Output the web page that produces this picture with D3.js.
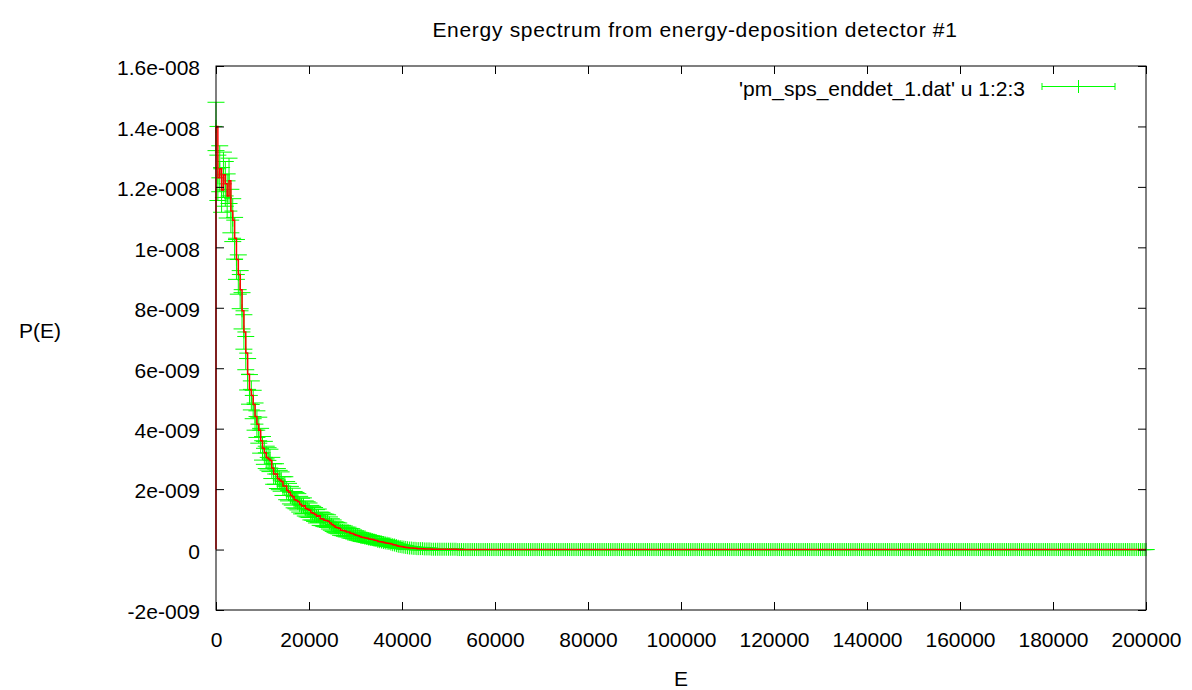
<!DOCTYPE html>
<html><head><meta charset="utf-8">
<script src="https://cdn.jsdelivr.net/npm/d3@7"></script>
<style>
body{margin:0;background:#fff}
svg{display:block}
text{font-family:"Liberation Sans",Arial,Helvetica,sans-serif;fill:#000}
</style>
</head><body><svg id="c" width="1192" height="690"></svg>
<script>
// ---------------- data ----------------
const title = "Energy spectrum from energy-deposition detector #1";
const xLabel = "E";
const yLabel = "P(E)";
const legendLabel = "'pm_sps_enddet_1.dat' u 1:2:3";
const xTicks = [0,20000,40000,60000,80000,100000,120000,140000,160000,180000,200000];
const xTickLabels = ["0","20000","40000","60000","80000","100000","120000","140000","160000","180000","200000"];
const yTicks = [-2e-9,0,2e-9,4e-9,6e-9,8e-9,1e-8,1.2e-8,1.4e-8,1.6e-8];
const yTickLabels = ["-2e-009","0","2e-009","4e-009","6e-009","8e-009","1e-008","1.2e-008","1.4e-008","1.6e-008"];
const binWidth = 400;      // E step between points (E = index * binWidth)
const UNIT = 1e-9;         // P(E) values below are in units of 1e-9
const pE = [
14.0,12.3,12.6,11.9,12.4,12.1,11.7,12.2,11.2,10.9,
10.3,9.6,9.1,8.6,7.9,7.2,6.5,5.8,5.3,5.1,
4.8,4.4,4.15,3.95,3.6,3.35,3.2,3.05,3.0,2.95,
2.7,2.5,2.5,2.35,2.3,2.25,2.1,2.1,1.95,1.9,
1.8,1.75,1.65,1.62,1.58,1.5,1.44,1.45,1.36,1.33,
1.3,1.22,1.2,1.16,1.1,1.12,1.02,1.01,0.97,0.96,
0.94,0.88,0.83,0.79,0.74,0.72,0.70,0.64,0.63,0.61,
0.58,0.58,0.54,0.53,0.5,0.47,0.46,0.43,0.41,0.4,
0.38,0.37,0.35,0.34,0.33,0.31,0.3,0.27,0.26,0.25,
0.23,0.22,0.21,0.2,0.18,0.16,0.15,0.13,0.11,0.1,
0.09,0.08,0.07,0.06,0.05,0.05,0.04,0.04,0.03,0.03,
0.03,0.03,0.02,0.02,0.02,0.02,0.01,0.01,0.01,0.01,
0.01,0.01,0.01,0.01,0.01,0.01,0.01,0.01,0.01,0.01,
0,0,0,0,0,0,0,0,0,0,
0,0,0,0,0,0,0,0,0,0,0,0,0,0,0,0,0,0,0,0,0,0,0,0,0,0,0,0,0,0,
0,0,0,0,0,0,0,0,0,0,0,0,0,0,0,0,0,0,0,0,0,0,0,0,0,0,0,0,0,0,
0,0,0,0,0,0,0,0,0,0,0,0,0,0,0,0,0,0,0,0,0,0,0,0,0,0,0,0,0,0,
0,0,0,0,0,0,0,0,0,0,0,0,0,0,0,0,0,0,0,0,0,0,0,0,0,0,0,0,0,0,
0,0,0,0,0,0,0,0,0,0,0,0,0,0,0,0,0,0,0,0,0,0,0,0,0,0,0,0,0,0,
0,0,0,0,0,0,0,0,0,0,0,0,0,0,0,0,0,0,0,0,0,0,0,0,0,0,0,0,0,0,
0,0,0,0,0,0,0,0,0,0,0,0,0,0,0,0,0,0,0,0,0,0,0,0,0,0,0,0,0,0,
0,0,0,0,0,0,0,0,0,0,0,0,0,0,0,0,0,0,0,0,0,0,0,0,0,0,0,0,0,0,
0,0,0,0,0,0,0,0,0,0,0,0,0,0,0,0,0,0,0,0,0,0,0,0,0,0,0,0,0,0,
0,0,0,0,0,0,0,0,0,0,0,0,0,0,0,0,0,0,0,0,0,0,0,0,0,0,0,0,0,0,
0,0,0,0,0,0,0,0,0,0,0,0,0,0,0,0,0,0,0,0,0,0,0,0,0,0,0,0,0,0,
0,0,0,0,0,0,0,0,0,0,0,0,0,0,0,0,0,0,0,0,0,0,0,0,0,0,0,0,0,0,
0
];
const pErr = [
0.80,0.75,0.76,0.74,0.75,0.74,0.73,0.75,0.72,0.71,
0.69,0.66,0.65,0.63,0.60,0.57,0.55,0.52,0.49,0.48,
0.47,0.45,0.44,0.43,0.41,0.39,0.38,0.37,0.37,0.37,
0.35,0.34,0.34,0.33,0.32,0.32,0.31,0.31,0.30,0.29,
0.29,0.28,0.27,0.27,0.27,0.26,0.26,0.26,0.25,0.25,
0.24,0.24,0.23,0.23,0.22,0.22,0.22,0.22,0.21,0.21,
0.21,0.20,0.19,0.19,0.18,0.18,0.18,0.17,0.17,0.17,
0.16,0.16,0.16,0.16,0.15,0.15,0.15,0.14,0.14,0.14,
0.13,0.13,0.13,0.12,0.12,0.12,0.12,0.11,0.11,0.11,
0.10,0.10,0.10,0.10,0.09,0.09,0.08,0.08,0.07,0.07,
0.06,0.06,0.06,0.05,0.05,0.05,0.04,0.04,0.04,0.04,
0.04,0.04,0.03,0.03,0.03,0.03,0.02,0.02,0.02,0.02,
0.02,0.02,0.02,0.02,0.02,0.02,0.02,0.02,0.02,0.02,
0,0,0,0,0,0,0,0,0,0,
0,0,0,0,0,0,0,0,0,0,0,0,0,0,0,0,0,0,0,0,0,0,0,0,0,0,0,0,0,0,
0,0,0,0,0,0,0,0,0,0,0,0,0,0,0,0,0,0,0,0,0,0,0,0,0,0,0,0,0,0,
0,0,0,0,0,0,0,0,0,0,0,0,0,0,0,0,0,0,0,0,0,0,0,0,0,0,0,0,0,0,
0,0,0,0,0,0,0,0,0,0,0,0,0,0,0,0,0,0,0,0,0,0,0,0,0,0,0,0,0,0,
0,0,0,0,0,0,0,0,0,0,0,0,0,0,0,0,0,0,0,0,0,0,0,0,0,0,0,0,0,0,
0,0,0,0,0,0,0,0,0,0,0,0,0,0,0,0,0,0,0,0,0,0,0,0,0,0,0,0,0,0,
0,0,0,0,0,0,0,0,0,0,0,0,0,0,0,0,0,0,0,0,0,0,0,0,0,0,0,0,0,0,
0,0,0,0,0,0,0,0,0,0,0,0,0,0,0,0,0,0,0,0,0,0,0,0,0,0,0,0,0,0,
0,0,0,0,0,0,0,0,0,0,0,0,0,0,0,0,0,0,0,0,0,0,0,0,0,0,0,0,0,0,
0,0,0,0,0,0,0,0,0,0,0,0,0,0,0,0,0,0,0,0,0,0,0,0,0,0,0,0,0,0,
0,0,0,0,0,0,0,0,0,0,0,0,0,0,0,0,0,0,0,0,0,0,0,0,0,0,0,0,0,0,
0,0,0,0,0,0,0,0,0,0,0,0,0,0,0,0,0,0,0,0,0,0,0,0,0,0,0,0,0,0,
0
];

// ---------------- drawing ----------------
const FS = 21;
const svg = d3.select("#c");
const x = d3.scaleLinear().domain([0, 200000]).range([216, 1146]);
const y = d3.scaleLinear().domain([-2e-9, 1.6e-8]).range([610, 66]);

const pts = pE.map((v, i) => ({ e: i * binWidth, v: v * UNIT, d: (pErr[i] || 0) * UNIT }));

// error bars + "+" points (green)
const CAP = 8.5, PT = 6.5;
let dPath = "";
pts.forEach(p => {
  const cx = x(p.e), cy = y(p.v), lo = y(p.v - p.d), hi = y(p.v + p.d);
  dPath += `M${cx},${lo}V${hi}`;
  dPath += `M${cx - CAP},${lo}H${cx + CAP}M${cx - CAP},${hi}H${cx + CAP}`;
  dPath += `M${cx - PT},${cy}H${cx + PT}M${cx},${cy - PT}V${cy + PT}`;
});
svg.append("path").attr("d", dPath).attr("fill", "none")
  .attr("stroke", "#00ff00").attr("stroke-width", 1);

// red step line
const stepLine = d3.line().x(p => x(p.e)).y(p => y(p.v)).curve(d3.curveStepAfter);
svg.append("path").datum([{ e: 0, v: 0 }].concat(pts))
  .attr("d", stepLine).attr("fill", "none")
  .attr("stroke", "#ff0000").attr("stroke-width", 1.5);

// axes with inward ticks (mirrored)
function styleAxis(g) {
  g.select(".domain").remove();
  g.selectAll("line").attr("stroke", "#000");
  g.selectAll("text").attr("font-size", FS).attr("font-family", '"Liberation Sans",Arial,sans-serif').attr("fill", "#000");
}
svg.append("g").attr("transform", "translate(216,0)")
  .call(d3.axisLeft(y).tickValues(yTicks).tickFormat((d, i) => yTickLabels[i]).tickSizeInner(-8).tickSizeOuter(0).tickPadding(16))
  .call(styleAxis).selectAll("text").attr("dy", "0.42em");
svg.append("g").attr("transform", "translate(1146,0)")
  .call(d3.axisRight(y).tickValues(yTicks).tickFormat("").tickSizeInner(-8).tickSizeOuter(0))
  .call(styleAxis);
svg.append("g").attr("transform", "translate(0,610)")
  .call(d3.axisBottom(x).tickValues(xTicks).tickFormat((d, i) => xTickLabels[i]).tickSizeInner(-8).tickSizeOuter(0).tickPadding(22))
  .call(styleAxis);
svg.append("g").attr("transform", "translate(0,66)")
  .call(d3.axisTop(x).tickValues(xTicks).tickFormat("").tickSizeInner(-8).tickSizeOuter(0))
  .call(styleAxis);

// border
svg.append("rect").attr("x", x(0)).attr("y", y(1.6e-8))
  .attr("width", x(200000) - x(0)).attr("height", y(-2e-9) - y(1.6e-8))
  .attr("fill", "none").attr("stroke", "#000").attr("stroke-width", 1);

// titles
svg.append("text").attr("x", 695).attr("y", 37).attr("text-anchor", "middle").attr("font-size", FS)
  .attr("letter-spacing", "0.7px").text(title);
svg.append("text").attr("x", 681).attr("y", 686).attr("text-anchor", "middle").attr("font-size", FS).text(xLabel);
svg.append("text").attr("x", 40).attr("y", 338).attr("text-anchor", "middle").attr("font-size", FS).text(yLabel);

// legend
const ly = 86.5;
svg.append("text").attr("x", 1025).attr("y", 96).attr("text-anchor", "end").attr("font-size", FS).text(legendLabel);
const lg = svg.append("g").attr("stroke", "#00ff00").attr("stroke-width", 1).attr("fill", "none");
lg.append("path").attr("d", `M1042,${ly}H1115M1042,${ly - 3.5}V${ly + 3.5}M1115,${ly - 3.5}V${ly + 3.5}M1078.5,${ly - 6.5}V${ly + 6.5}`);
</script>
</body></html>
